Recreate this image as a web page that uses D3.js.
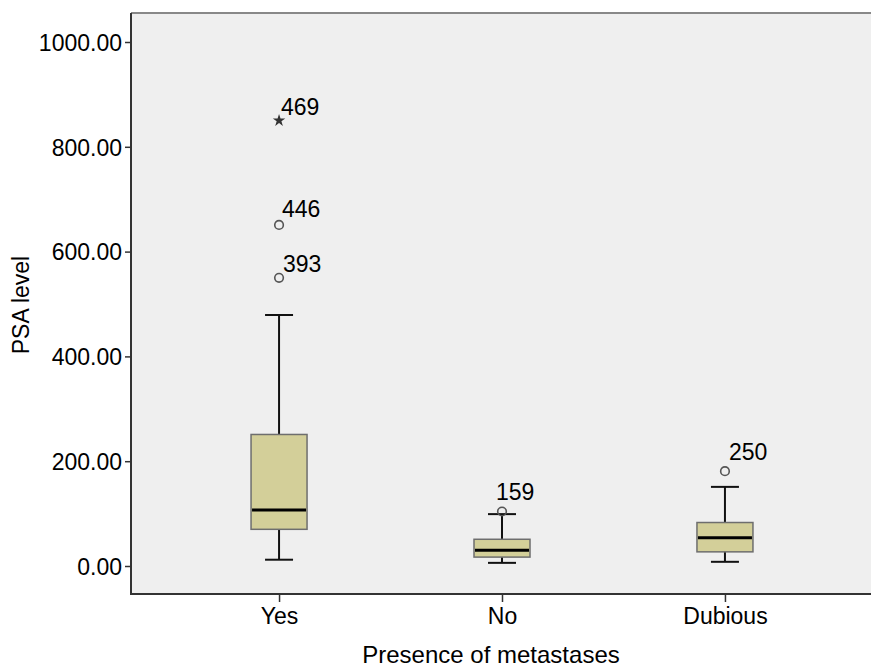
<!DOCTYPE html>
<html>
<head>
<meta charset="utf-8">
<script src="https://cdn.jsdelivr.net/npm/d3@7"></script>
<style>
  body { margin: 0; background: #fff; }
  text { font-family: "Liberation Sans", Arial, sans-serif; fill: #000; }
</style>
</head>
<body>
<svg id="chart" width="871" height="668"></svg>
<script>
// boxplot summaries
const categories = ["Yes", "No", "Dubious"];
const whiskerLow = [12, 6, 8];
const q1 = [70, 17, 27];
const median = [107, 30, 54];
const q3 = [251, 51, 83];
const whiskerHigh = [479, 99, 151];

// outliers: category, value, case label, kind
const outlierCat = ["Yes", "Yes", "Yes", "No", "Dubious"];
const outlierVal = [850, 651, 550, 104, 181];
const outlierLabel = ["469", "446", "393", "159", "250"];
const outlierKind = ["extreme", "out", "out", "out", "out"];

const yTicks = [0, 200, 400, 600, 800, 1000];

const svg = d3.select("#chart");
const plotL = 131, plotT = 13, plotB = 594, plotR = 871;

const x = d3.scalePoint()
    .domain(categories)
    .range([131, 873])
    .padding(0.664);

const y = d3.scaleLinear()
    .domain([0, 1000])
    .range([566, 42]);

// plot background
svg.append("rect")
    .attr("x", plotL).attr("y", plotT)
    .attr("width", plotR - plotL).attr("height", plotB - plotT)
    .attr("fill", "#efefef");

svg.append("line")
    .attr("x1", plotL).attr("x2", plotR)
    .attr("y1", plotT).attr("y2", plotT)
    .attr("stroke", "#888").attr("stroke-width", 2);

// axes
const yAxis = svg.append("g")
    .attr("transform", `translate(${plotL},0)`)
    .call(d3.axisLeft(y).tickValues(yTicks).tickSize(6).tickPadding(3)
        .tickFormat(d3.format(".2f")));
yAxis.select(".domain").remove();
yAxis.selectAll("line").attr("stroke", "#333").attr("stroke-width", 1.5);
yAxis.selectAll("text").attr("font-size", 23).attr("dy", "0.36em");

const xAxis = svg.append("g")
    .attr("transform", `translate(0,${plotB})`)
    .call(d3.axisBottom(x).tickSize(8).tickPadding(5));
xAxis.select(".domain").remove();
xAxis.selectAll("line").attr("stroke", "#333").attr("stroke-width", 1.5);
xAxis.selectAll("text").attr("font-size", 23).attr("dy", "0.72em");

svg.append("line")
    .attr("x1", plotL).attr("x2", plotL)
    .attr("y1", plotT).attr("y2", plotB + 1)
    .attr("stroke", "#333").attr("stroke-width", 2);
svg.append("line")
    .attr("x1", plotL).attr("x2", plotR)
    .attr("y1", plotB).attr("y2", plotB)
    .attr("stroke", "#333").attr("stroke-width", 2);

// boxes
const boxW = 56, capW = 28;
const boxes = svg.append("g")
    .selectAll("g")
    .data(categories)
    .join("g");

boxes.append("line")
    .attr("x1", d => x(d)).attr("x2", d => x(d))
    .attr("y1", (d, i) => y(whiskerHigh[i]))
    .attr("y2", (d, i) => y(whiskerLow[i]))
    .attr("stroke", "#111").attr("stroke-width", 2);

boxes.selectAll(".cap")
    .data((d, i) => [whiskerLow[i], whiskerHigh[i]].map(v => ({ c: d, v })))
    .join("line")
    .attr("class", "cap")
    .attr("x1", d => x(d.c) - capW / 2).attr("x2", d => x(d.c) + capW / 2)
    .attr("y1", d => y(d.v)).attr("y2", d => y(d.v))
    .attr("stroke", "#111").attr("stroke-width", 2);

boxes.append("rect")
    .attr("x", d => x(d) - boxW / 2)
    .attr("y", (d, i) => y(q3[i]))
    .attr("width", boxW)
    .attr("height", (d, i) => y(q1[i]) - y(q3[i]))
    .attr("fill", "#d3cf99")
    .attr("stroke", "#6e6e6e").attr("stroke-width", 1.5);

boxes.append("line")
    .attr("x1", d => x(d) - boxW / 2 + 1).attr("x2", d => x(d) + boxW / 2 - 1)
    .attr("y1", (d, i) => y(median[i])).attr("y2", (d, i) => y(median[i]))
    .attr("stroke", "#000").attr("stroke-width", 3);

// outliers
const outliers = outlierVal.map((v, i) => ({
    c: outlierCat[i], v, label: outlierLabel[i], kind: outlierKind[i]
}));
const labelNudge = { "469": [2, -6], "446": [3, -8], "393": [4, -6], "159": [-6, -12], "250": [4, -11] };

const og = svg.append("g");
og.selectAll("circle")
    .data(outliers.filter(d => d.kind === "out"))
    .join("circle")
    .attr("cx", d => x(d.c)).attr("cy", d => y(d.v))
    .attr("r", 4.3)
    .attr("fill", "none")
    .attr("stroke", "#555").attr("stroke-width", 1.6);

og.selectAll("path")
    .data(outliers.filter(d => d.kind === "extreme"))
    .join("path")
    .attr("transform", d => `translate(${x(d.c)},${y(d.v)})`)
    .attr("d", d3.symbol(d3.symbolStar, 48))
    .attr("fill", "#333");

og.selectAll("text")
    .data(outliers)
    .join("text")
    .attr("x", d => x(d.c) + labelNudge[d.label][0])
    .attr("y", d => y(d.v) + labelNudge[d.label][1])
    .attr("font-size", 23)
    .text(d => d.label);

// axis titles
svg.append("text")
    .attr("transform", `translate(29,305) rotate(-90)`)
    .attr("text-anchor", "middle")
    .attr("font-size", 23)
    .text("PSA level");

svg.append("text")
    .attr("x", 491).attr("y", 663)
    .attr("text-anchor", "middle")
    .attr("font-size", 24)
    .text("Presence of metastases");
</script>
</body>
</html>
